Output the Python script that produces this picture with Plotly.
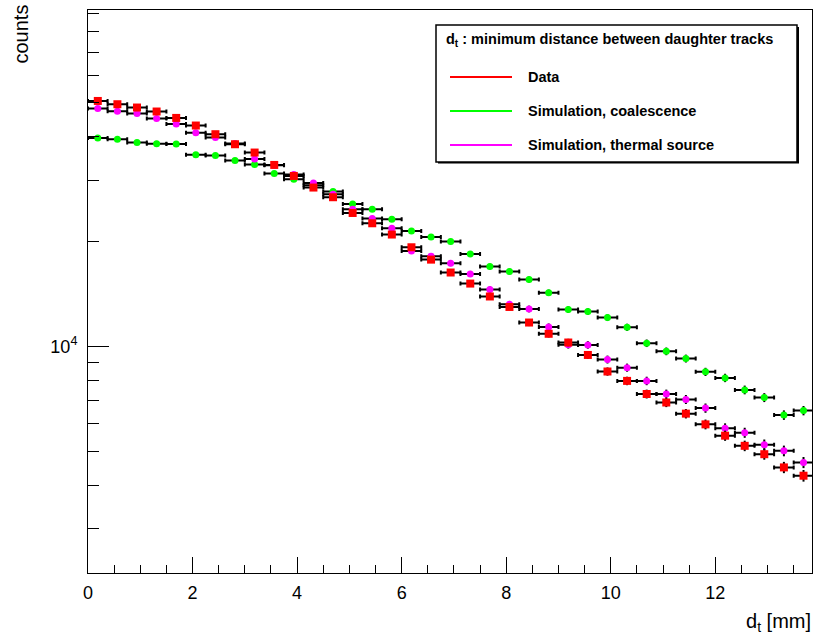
import numpy as np
import plotly.graph_objects as go

# ---------------- data ----------------
bin_width = 0.375          # mm
n_bins = 37
bin_edges = np.arange(n_bins + 1) * bin_width
dt_centers = 0.5 * (bin_edges[:-1] + bin_edges[1:])

data_counts = [50660, 49580, 48510, 47250, 45290, 43070, 40670, 38060, 36030, 33200,
               30870, 28590, 26820, 24170, 22580, 20960, 19270, 17760, 16310, 15160,
               13920, 12990, 11720, 10880, 10270, 9460, 8480, 7970, 7310, 6910,
               6420, 5980, 5550, 5190, 4910, 4500, 4260]

sim_coalescence = [39680, 39340, 38490, 38180, 38100, 35500, 35320, 34170, 33280, 31370,
                   30210, 29030, 27850, 25660, 24770, 23190, 21460, 20630, 20010, 18440,
                   16960, 16410, 15570, 14270, 12770, 12600, 12110, 11360, 10220, 9690,
                   9240, 8460, 8130, 7510, 7140, 6360, 6550]

sim_thermal = [48190, 47340, 46630, 45110, 43520, 41070, 39780, 38240, 34530, 33130,
               31160, 29470, 27350, 24770, 23290, 21850, 18810, 18160, 17340, 16160,
               14580, 13230, 12820, 11380, 10120, 10110, 9180, 8700, 7970, 7310,
               7050, 6660, 5830, 5660, 5230, 5020, 4650]

err_scale = 2.5  # statistical error scale (x sqrt(N))

x_major = [0, 2, 4, 6, 8, 10, 12]
x_minor = [v for v in np.arange(0, 14, 0.5) if v not in x_major]
y_major = [10000]
y_major_text = ["10<sup>4</sup>"]
y_minor = [3000, 4000, 5000, 6000, 7000, 8000, 9000,
           20000, 30000, 40000, 50000, 60000, 70000, 80000, 90000]

legend_title = "d<sub>t</sub> : minimum distance between daughter tracks"
series = [
    ("Simulation, coalescence", sim_coalescence, "#00ff00", "circle", 7),
    ("Simulation, thermal source", sim_thermal, "#ff00ff", "circle", 7),
    ("Data", data_counts, "#ff0000", "square", 8),
]
legend_order = ["Data", "Simulation, coalescence", "Simulation, thermal source"]
legend_colors = {"Data": "#ff0000", "Simulation, coalescence": "#00ff00",
                 "Simulation, thermal source": "#ff00ff"}

# ---------------- layout geometry ----------------
W, H = 818, 640
L, R, T, B = 88, 6, 10, 67
FONT = "Liberation Sans, Arial, Helvetica, sans-serif"


def px_x(px):
    return (px - L) / (W - L - R)


def px_y(py):
    return (H - B - py) / (H - T - B)


fig = go.Figure()
half = [bin_width / 2] * n_bins
for name, vals, col, sym, size in series:
    vals = np.array(vals, dtype=float)
    fig.add_trace(go.Scatter(
        x=dt_centers, y=vals, mode="markers", name=name,
        marker=dict(color=col, symbol=sym, size=size, line=dict(width=0)),
        error_x=dict(type="data", array=half, visible=True, color="black",
                     thickness=2, width=2),
        error_y=dict(type="data", array=list(err_scale * np.sqrt(vals)), visible=True,
                     color="black", thickness=2, width=0),
        showlegend=False,
    ))

fig.update_xaxes(
    range=[0, 13.85], showgrid=False, zeroline=False,
    showline=True, linecolor="black", linewidth=1, mirror=True,
    tickmode="array", tickvals=x_major, ticktext=[str(v) for v in x_major],
    ticks="inside", ticklen=16, tickwidth=1, tickcolor="black",
    tickfont=dict(family=FONT, size=18, color="black"),
    ticklabelstandoff=3,
    minor=dict(tickmode="array", tickvals=x_minor, ticks="inside", ticklen=8,
               tickwidth=1, tickcolor="black"),
)
fig.update_yaxes(
    type="log", range=[np.log10(2240), np.log10(92400)],
    showgrid=False, zeroline=False,
    showline=True, linecolor="black", linewidth=1, mirror=True,
    tickmode="array", tickvals=y_major, ticktext=y_major_text,
    ticks="inside", ticklen=21, tickwidth=1, tickcolor="black",
    tickfont=dict(family=FONT, size=18, color="black"),
    ticklabelstandoff=6,
    minor=dict(tickmode="array", tickvals=y_minor, ticks="inside", ticklen=11,
               tickwidth=1, tickcolor="black"),
)

shapes = []
annotations = []
# legend box with shadow
shapes.append(dict(type="rect", xref="paper", yref="paper",
                   x0=px_x(438), x1=px_x(799), y0=px_y(163.5), y1=px_y(27),
                   fillcolor="black", line=dict(width=0), layer="above"))
shapes.append(dict(type="rect", xref="paper", yref="paper",
                   x0=px_x(436), x1=px_x(797), y0=px_y(162), y1=px_y(25),
                   fillcolor="white", line=dict(color="black", width=1.5), layer="above"))
annotations.append(dict(xref="paper", yref="paper", x=px_x(444), y=px_y(40),
                        xanchor="left", yanchor="middle", showarrow=False,
                        text="<b>" + legend_title + "</b>",
                        font=dict(family=FONT, size=14.5, color="black")))
entry_y = [77, 111, 145]
for name, ey in zip(legend_order, entry_y):
    shapes.append(dict(type="line", xref="paper", yref="paper",
                       x0=px_x(450), x1=px_x(512), y0=px_y(ey), y1=px_y(ey),
                       line=dict(color=legend_colors[name], width=2), layer="above"))
    annotations.append(dict(xref="paper", yref="paper", x=px_x(526), y=px_y(ey),
                            xanchor="left", yanchor="middle", showarrow=False,
                            text="<b>" + name + "</b>",
                            font=dict(family=FONT, size=14.5, color="black")))

# axis titles
annotations.append(dict(xref="paper", yref="paper", x=px_x(20), y=px_y(3),
                        xanchor="center", yanchor="top", showarrow=False,
                        textangle=-90, text="counts",
                        font=dict(family=FONT, size=20, color="black")))
annotations.append(dict(xref="paper", yref="paper", x=px_x(813), y=px_y(622),
                        xanchor="right", yanchor="middle", showarrow=False,
                        text="d<sub>t</sub> [mm]",
                        font=dict(family=FONT, size=20, color="black")))

fig.update_layout(
    width=W, height=H, autosize=False,
    margin=dict(l=L, r=R, t=T, b=B, pad=0),
    paper_bgcolor="white", plot_bgcolor="white",
    shapes=shapes, annotations=annotations,
    font=dict(family=FONT, color="black"),
)

fig.write_html("out.html")
